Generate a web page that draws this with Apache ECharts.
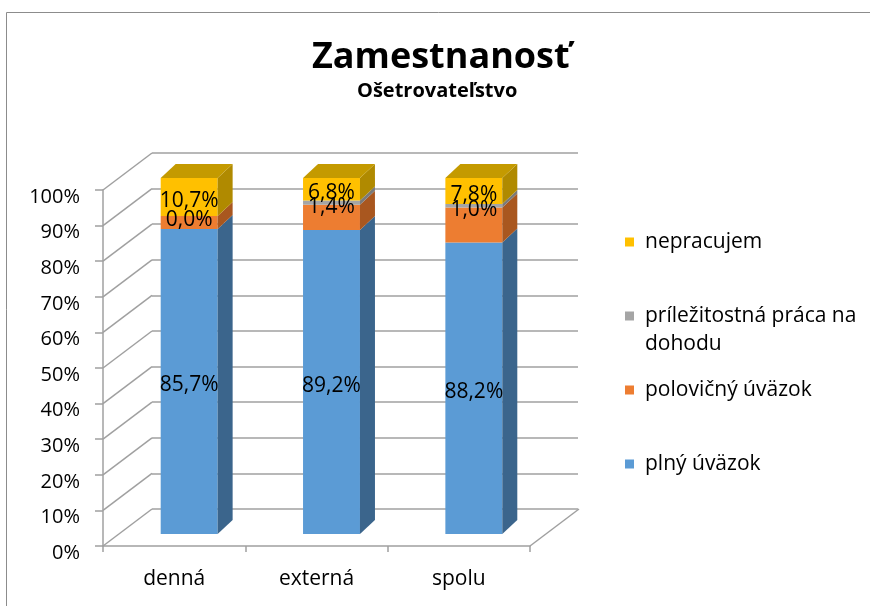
<!DOCTYPE html>
<html>
<head>
<meta charset="utf-8">
<script src="https://cdn.jsdelivr.net/npm/echarts@6/dist/echarts.min.js"></script>
<style>
  html, body { margin: 0; padding: 0; background: #fff; }
  #chart { width: 870px; height: 606px; }
</style>
</head>
<body>
<div id="chart"></div>
<script>
// kategórie a hodnoty (v %)
var categories = ['denná', 'externá', 'spolu'];
var seriesNames = ['plný úväzok', 'polovičný úväzok', 'príležitostná práca na dohodu', 'nepracujem'];
var plny = [85.7, 85.4, 81.9];
var polovicny = [3.6, 7.1, 9.8];
var prilezitostna = [0.0, 1.2, 1.0];
var nepracujem = [10.7, 6.3, 7.3];
// popisky tak, ako sú v grafe (polovičný úväzok nemá popisky)
var plnyLabels = [85.7, 89.2, 88.2];
var polovicnyLabels = [null, null, null];
var prilezitostnaLabels = [0.0, 1.4, 1.0];
var nepracujemLabels = [10.7, 6.8, 7.8];
var yTicks = [0, 10, 20, 30, 40, 50, 60, 70, 80, 90, 100];

var colors = ['#5b9bd5', '#ed7d31', '#a5a5a5', '#ffc000'];
var sideColors = ['#3b658c', '#a9571f', '#7a7a7a', '#b08a00'];
var topColors = ['#4a80b0', '#c86a28', '#909090', '#c49a00'];

var FONT = '"Open Sans", "Liberation Sans", sans-serif';
// posun prednej steny stĺpca a hĺbka stĺpca (pseudo 3D)
var OFF_X = 15, OFF_Y = -12;
var D_X = 15, D_Y = -14;
// hĺbka steny grafu
var WALL_X = 49, WALL_Y = -37;

var values = [plny, polovicny, prilezitostna, nepracujem];
var labels = [plnyLabels, polovicnyLabels, prilezitostnaLabels, nepracujemLabels];

function fmt(v) {
  return v.toFixed(1).replace('.', ',') + '%';
}

function buildData(si) {
  return categories.map(function (c, ci) {
    var base = 0;
    for (var k = 0; k < si; k++) base += values[k][ci];
    return [ci, base, base + values[si][ci]];
  });
}

function barRender(si) {
  return function (params, api) {
    var cat = api.value(0);
    var pb = api.coord([cat, api.value(1)]);
    var pt = api.coord([cat, api.value(2)]);
    var w = api.size([1, 0])[0] * 0.4;
    var x0 = pb[0] + OFF_X - w / 2, x1 = x0 + w;
    var yb = pb[1] + OFF_Y, yt = pt[1] + OFF_Y;
    var children = [];
    if (yb - yt > 0.1) {
      children.push({
        type: 'rect',
        shape: { x: x0, y: yt, width: w, height: yb - yt },
        style: { fill: colors[si] }
      });
      children.push({
        type: 'polygon',
        shape: { points: [[x1, yt], [x1 + D_X, yt + D_Y], [x1 + D_X, yb + D_Y], [x1, yb]] },
        style: { fill: sideColors[si] }
      });
      if (si === values.length - 1) {
        children.push({
          type: 'polygon',
          shape: { points: [[x0, yt], [x1, yt], [x1 + D_X, yt + D_Y], [x0 + D_X, yt + D_Y]] },
          style: { fill: topColors[si] }
        });
      }
    }
    var lab = labels[si][params.dataIndex];
    if (lab !== null) {
      children.push({
        type: 'text',
        z2: 100,
        style: {
          text: fmt(lab),
          x: (x0 + x1) / 2,
          y: (yt + yb) / 2 + 4,
          align: 'center',
          verticalAlign: 'middle',
          fill: '#000',
          font: '21px ' + FONT
        }
      });
    }
    return { type: 'group', children: children };
  };
}

// šikmé čiary bočnej steny a podlahy
function wallRender(params, api) {
  var cs = params.coordSys;
  var y = api.coord([0, api.value(1)])[1];
  var style = { stroke: '#a0a0a0', lineWidth: 1.5 };
  var children = [{
    type: 'line',
    shape: { x1: cs.x, y1: y, x2: cs.x + WALL_X, y2: y + WALL_Y },
    style: style
  }];
  if (api.value(1) === 0) {
    children.push({
      type: 'line',
      shape: { x1: cs.x + cs.width, y1: y, x2: cs.x + cs.width + WALL_X, y2: y + WALL_Y },
      style: style
    });
  }
  return { type: 'group', children: children };
}

var myChart = echarts.init(document.getElementById('chart'));

var series = [{
  type: 'custom',
  silent: true,
  xAxisIndex: 0,
  yAxisIndex: 0,
  renderItem: wallRender,
  data: yTicks.map(function (v) { return [0, v]; })
}];
seriesNames.forEach(function (name, si) {
  series.push({
    name: name,
    type: 'custom',
    xAxisIndex: 0,
    yAxisIndex: 0,
    itemStyle: { color: colors[si] },
    renderItem: barRender(si),
    data: buildData(si)
  });
});

function legendFor(name, top, extra) {
  return Object.assign({
    data: [name],
    orient: 'vertical',
    left: 620,
    top: top,
    icon: 'rect',
    itemWidth: 9,
    itemHeight: 9,
    selectedMode: false,
    textStyle: {
      fontFamily: FONT,
      fontSize: 21,
      color: '#000',
      lineHeight: 28,
      padding: [0, 0, 0, 6]
    }
  }, extra || {});
}

var option = {
  backgroundColor: '#fff',
  animation: false,
  title: [{
    text: 'Zamestnanosť',
    left: 312,
    top: 40,
    padding: 0,
    textStyle: { fontFamily: FONT, fontWeight: 'bold', fontSize: 36, color: '#000' }
  }, {
    text: 'Ošetrovateľstvo',
    left: 357,
    top: 81,
    padding: 0,
    textStyle: { fontFamily: FONT, fontWeight: 'bold', fontSize: 20, color: '#000' }
  }],
  legend: [
    legendFor('nepracujem', 223),
    legendFor('príležitostná práca na dohodu', 269, {
      // prázdny prvý riadok, aby značka stála pri prvom riadku textu
      formatter: function (n) { return '\n' + n.replace(' dohodu', '\ndohodu'); }
    }),
    legendFor('polovičný úväzok', 371),
    legendFor('plný úväzok', 445)
  ],
  graphic: [{
    type: 'rect',
    silent: true,
    shape: { x: 6.5, y: 12.5, width: 1000, height: 1000 },
    style: { fill: null, stroke: '#8c8c8c', lineWidth: 1 }
  }],
  grid: [
    // predná rovina osí
    { left: 103, right: 340, top: 190, bottom: 60 },
    // zadná stena
    { left: 152, right: 292, top: 153, bottom: 97 }
  ],
  xAxis: [{
    gridIndex: 0,
    type: 'category',
    data: categories,
    axisLine: { lineStyle: { color: '#a0a0a0', width: 1.5 } },
    axisTick: { show: true, length: 6, lineStyle: { color: '#a0a0a0', width: 1.5 } },
    axisLabel: { fontFamily: FONT, fontSize: 21, color: '#000', margin: 23 }
  }, {
    gridIndex: 1,
    type: 'category',
    data: categories,
    show: false
  }],
  yAxis: [{
    gridIndex: 0,
    type: 'value',
    min: 0,
    max: 100,
    interval: 10,
    axisLine: { show: true, lineStyle: { color: '#a0a0a0', width: 1.5 } },
    axisTick: { show: true, length: 8, lineStyle: { color: '#a0a0a0', width: 1.5 } },
    splitLine: { show: false },
    axisLabel: {
      formatter: '{value}%', fontFamily: FONT, fontSize: 20, color: '#000',
      margin: 23, verticalAlign: 'top', lineHeight: 14
    }
  }, {
    gridIndex: 1,
    type: 'value',
    min: 0,
    max: 100,
    interval: 10,
    axisLine: { show: false },
    axisTick: { show: false },
    axisLabel: { show: false },
    splitLine: { show: true, lineStyle: { color: '#a0a0a0', width: 1.5 } }
  }],
  series: series
};

myChart.setOption(option);
</script>
</body>
</html>
